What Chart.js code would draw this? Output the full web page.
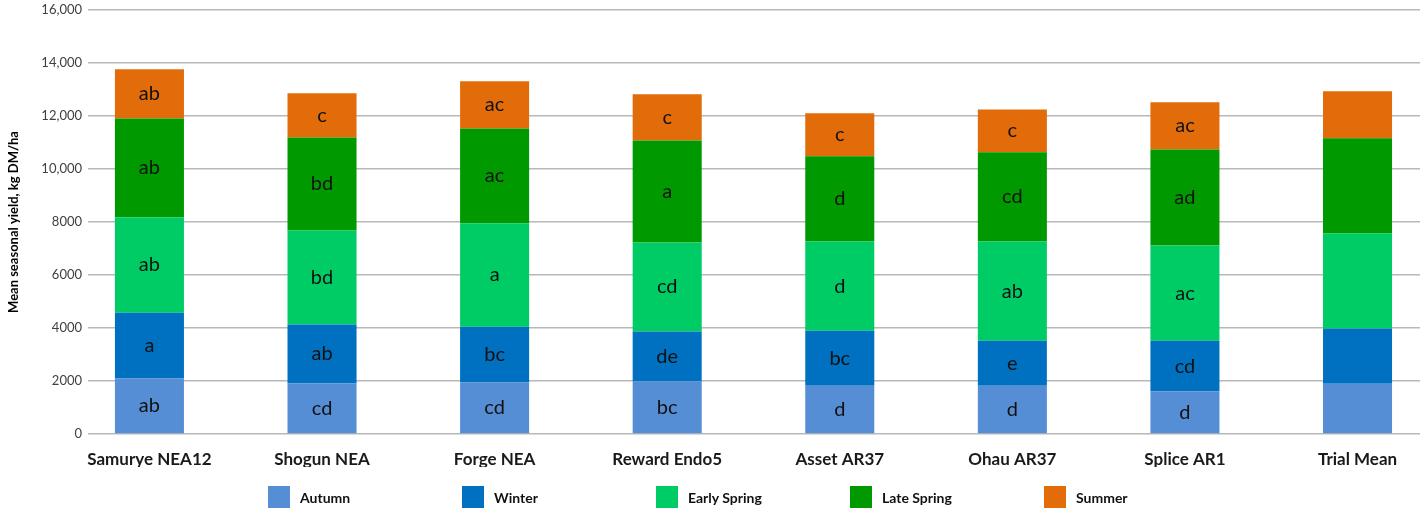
<!DOCTYPE html>
<html>
<head>
<meta charset="utf-8">
<script src="https://cdn.jsdelivr.net/npm/chart.js@4.4.1/dist/chart.umd.min.js"></script>
<style>
  html, body { margin: 0; padding: 0; background: #fff; }
  #wrap { position: relative; width: 1424px; height: 508px; overflow: hidden; }
  #legend { position: absolute; left: 268px; top: 486px; display: flex; font-family: Lato, "Open Sans", sans-serif; }
  .li { width: 194px; display: flex; align-items: center; }
  .sw { width: 22px; height: 22px; margin-right: 10px; flex: none; }
  .lt { font-weight: 700; font-size: 14px; color: #111; }
</style>
</head>
<body>
<div id="wrap">
  <canvas id="c" width="1424" height="508"></canvas>
  <div id="legend"></div>
</div>
<script>
const categories = ['Samurye NEA12', 'Shogun NEA', 'Forge NEA', 'Reward Endo5', 'Asset AR37', 'Ohau AR37', 'Splice AR1', 'Trial Mean'];
const seriesNames = ['Autumn', 'Winter', 'Early Spring', 'Late Spring', 'Summer'];

const autumn      = [2090, 1910, 1940, 1980, 1820, 1820, 1600, 1900];
const winter      = [2490, 2220, 2110, 1890, 2080, 1700, 1920, 2080];
const earlySpring = [3600, 3550, 3900, 3360, 3360, 3740, 3590, 3590];
const lateSpring  = [3730, 3510, 3580, 3850, 3220, 3370, 3630, 3590];
const summer      = [1850, 1670, 1780, 1740, 1620, 1620, 1780, 1770];

const autumnSig      = ['ab', 'cd', 'cd', 'bc', 'd', 'd', 'd', ''];
const winterSig      = ['a', 'ab', 'bc', 'de', 'bc', 'e', 'cd', ''];
const earlySpringSig = ['ab', 'bd', 'a', 'cd', 'd', 'ab', 'ac', ''];
const lateSpringSig  = ['ab', 'bd', 'ac', 'a', 'd', 'cd', 'ad', ''];
const summerSig      = ['ab', 'c', 'ac', 'c', 'c', 'c', 'ac', ''];

const yTicks = [0, 2000, 4000, 6000, 8000, 10000, 12000, 14000, 16000];

const colors = ['#558ED5', '#0070C0', '#00CC66', '#009900', '#E36C0A'];
const values = [autumn, winter, earlySpring, lateSpring, summer];
const sigs = [autumnSig, winterSig, earlySpringSig, lateSpringSig, summerSig];

const FONT = 'Lato, "Open Sans", sans-serif';

const datasets = seriesNames.map((name, s) => ({
  label: name,
  data: values[s].map((v, i) => ({ x: i, y: v })),
  sig: sigs[s],
  backgroundColor: colors[s],
  borderWidth: 0,
  barPercentage: 0.4,
  categoryPercentage: 1.0
}));

const sigPlugin = {
  id: 'sigLabels',
  afterDatasetsDraw(chart) {
    const ctx = chart.ctx;
    ctx.save();
    ctx.font = '20px ' + FONT;
    ctx.fillStyle = '#111';
    ctx.textAlign = 'center';
    ctx.textBaseline = 'middle';
    chart.data.datasets.forEach((ds, di) => {
      const meta = chart.getDatasetMeta(di);
      meta.data.forEach((el, i) => {
        const t = ds.sig[i];
        if (!t) return;
        const p = el.getProps(['x', 'y', 'base'], true);
        ctx.fillText(t, p.x, (p.y + p.base) / 2);
      });
    });
    ctx.restore();
  }
};

const htmlLegend = {
  id: 'htmlLegend',
  afterUpdate(chart) {
    const box = document.getElementById('legend');
    box.innerHTML = '';
    chart.data.datasets.forEach(ds => {
      const it = document.createElement('div');
      it.className = 'li';
      const sw = document.createElement('span');
      sw.className = 'sw';
      sw.style.background = ds.backgroundColor;
      const tx = document.createElement('span');
      tx.className = 'lt';
      tx.textContent = ds.label;
      it.appendChild(sw);
      it.appendChild(tx);
      box.appendChild(it);
    });
  }
};

new Chart(document.getElementById('c'), {
  type: 'bar',
  data: { datasets },
  plugins: [sigPlugin, htmlLegend],
  options: {
    responsive: false,
    animation: false,
    layout: { padding: { top: 10, right: 4, bottom: 41, left: 0 } },
    plugins: {
      legend: { display: false },
      tooltip: { enabled: false }
    },
    scales: {
      x: {
        type: 'linear',
        stacked: true,
        offset: false,
        min: -0.356,
        max: 7.362,
        afterFit: (axis) => { axis.height = 33; },
        grid: { display: false, drawTicks: false, offset: false },
        border: { display: false },
        ticks: {
          stepSize: 1,
          includeBounds: false,
          autoSkip: false,
          maxRotation: 0,
          padding: 15,
          color: '#1a1a1a',
          font: { family: FONT, size: 17, weight: '700' },
          callback: (v) => Number.isInteger(v) ? categories[v] : ''
        }
      },
      y: {
        stacked: true,
        min: 0,
        max: 16000,
        afterBuildTicks: (axis) => { axis.ticks = yTicks.map(v => ({ value: v })); },
        afterFit: (axis) => { axis.width = 88; },
        grid: { color: '#b8b8b8', lineWidth: 1.5, drawTicks: false },
        border: { display: false },
        ticks: {
          padding: 6,
          color: '#404040',
          font: { family: FONT, size: 13, lineHeight: 0.5 },
          callback: (v) => v >= 10000 ? v.toLocaleString('en-US') : String(v)
        },
        title: {
          display: true,
          text: 'Mean seasonal yield, kg DM/ha',
          color: '#000',
          font: { family: FONT, size: 13, weight: '700' },
          padding: { top: 6, bottom: 0 }
        }
      }
    }
  }
});
</script>
</body>
</html>
